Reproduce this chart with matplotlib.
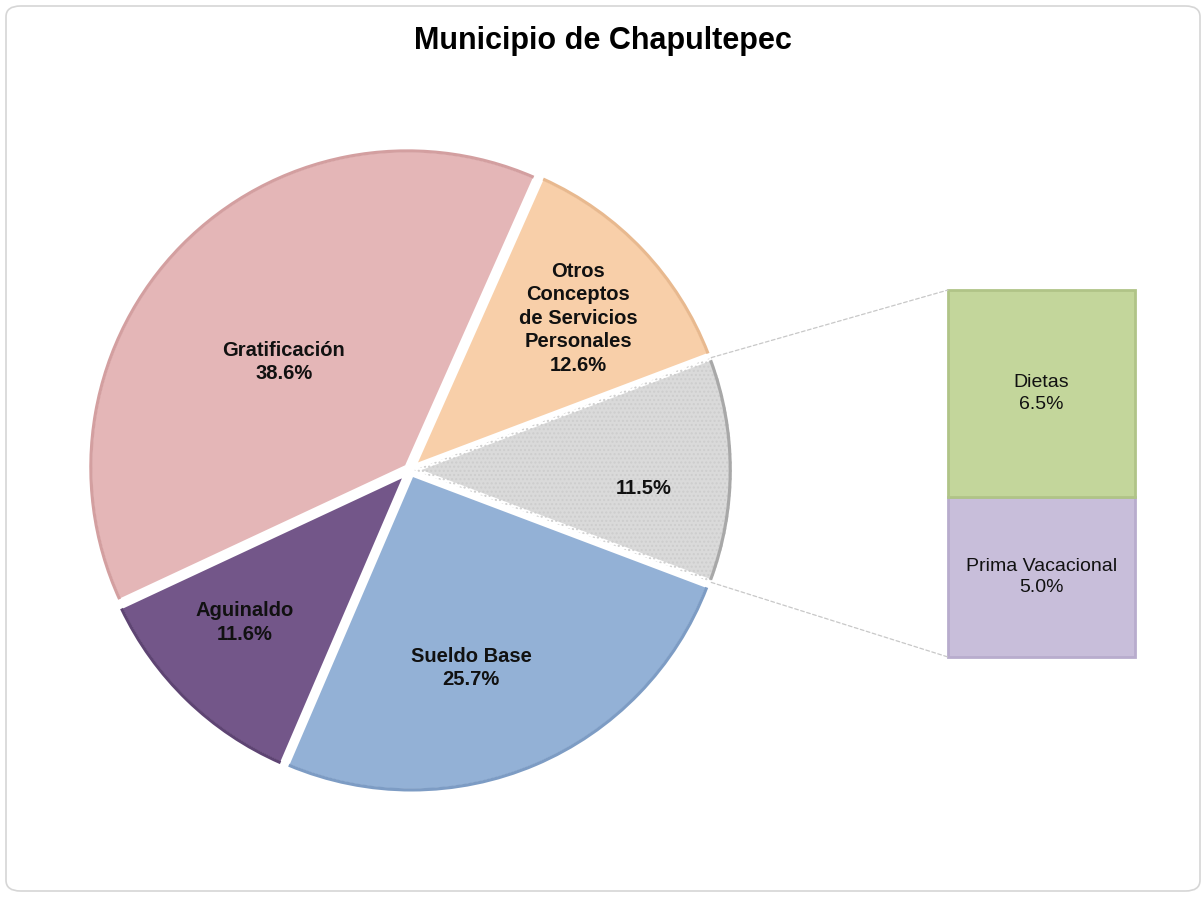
import numpy as np
import matplotlib
matplotlib.use("Agg")
import matplotlib.pyplot as plt
from matplotlib.patches import FancyBboxPatch, ConnectionPatch, Wedge

# ---- data ----
title = "Municipio de Chapultepec"
pie_labels = ["", "Otros\nConceptos\nde Servicios\nPersonales", "Gratificación", "Aguinaldo", "Sueldo Base"]
pie_values = [11.5, 12.6, 38.6, 11.6, 25.7]
pie_colors = ["#DADADA", "#F8CFA9", "#E4B6B7", "#735689", "#93B1D6"]
bar_labels = ["Prima Vacacional", "Dietas"]
bar_values = [5.0, 6.5]
bar_colors = ["#C8BEDA", "#C3D69B"]
bar_edges = ["#B8ACCD", "#B0C487"]

W, H = 1203, 897
fig = plt.figure(figsize=(W / 100, H / 100), dpi=100)
fig.patch.set_facecolor("white")

# rounded border
border = FancyBboxPatch((6 / W, 6 / H), (W - 9) / W, (H - 12) / H,
                        boxstyle="round,pad=0,rounding_size=0.012",
                        transform=fig.transFigure, facecolor="none",
                        edgecolor="#D6D6D6", linewidth=1.2)
fig.patches.append(border)

fig.text(603 / W, 1 - 41 / H, title, ha="center", va="center",
         fontsize=22, fontweight="bold",
         family=["Liberation Sans Narrow", "Liberation Sans", "DejaVu Sans"])

# ---- pie ----
cx, cy, R = 410, 470, 318
axp = fig.add_axes([(cx - R) / W, (H - cy - R) / H, 2 * R / W, 2 * R / H])

start = -pie_values[0] / 100 * 360 / 2
wedges, _ = axp.pie(pie_values, colors=pie_colors, startangle=start,
                    counterclock=True, radius=1.0,
                    explode=[0.012] * len(pie_values),
                    wedgeprops=dict(edgecolor="white", linewidth=4))
axp.set_xlim(-1, 1)
axp.set_ylim(-1, 1)
axp.set_aspect("equal")
axp.axis("off")
for w in wedges:
    w.set_clip_on(False)

# dotted texture on the grey slice
w0 = wedges[0]
hatch = Wedge(w0.center, w0.r, w0.theta1, w0.theta2, facecolor="none",
              edgecolor="#CDCDCD", hatch="....", linewidth=0, clip_on=False)
axp.add_patch(hatch)
# subtle darker rim
for w, c in zip(wedges, ["#A8A8A8", "#E8B98F", "#D39FA0", "#5E4473", "#7D9CC4"]):
    rim = Wedge(w.center, w.r, w.theta1 + 0.4, w.theta2 - 0.4, width=0.01,
                facecolor=c, edgecolor="none", clip_on=False)
    axp.add_patch(rim)

# label placement (radius, angle offset from slice middle)
label_r = [0.725, 0.70, 0.51, 0.695, 0.64]
label_dang = [-4.5, -1.4, 4.0, -3.2, -6.0]
total = sum(pie_values)
for w, lab, v, r, da in zip(wedges, pie_labels, pie_values, label_r, label_dang):
    ang = np.deg2rad((w.theta1 + w.theta2) / 2 + da)
    x = w.center[0] + r * np.cos(ang)
    y = w.center[1] + r * np.sin(ang)
    txt = f"{v / total * 100:.1f}%" if lab == "" else f"{lab}\n{v / total * 100:.1f}%"
    axp.text(x, y, txt, ha="center", va="center", fontsize=14.5,
             fontweight="bold", family="Liberation Sans", color="#111111",
             linespacing=1.3)

# ---- bar of pie ----
bx0, bx1, by0, by1 = 948, 1135, 290, 657
axb = fig.add_axes([bx0 / W, (H - by1) / H, (bx1 - bx0) / W, (by1 - by0) / H])
axb.set_xlim(-0.5, 0.5)
axb.set_ylim(0, sum(bar_values))
axb.axis("off")
bottom = 0
for lab, v, c, ec in zip(bar_labels, bar_values, bar_colors, bar_edges):
    axb.bar(0, v, width=1.0, bottom=bottom, color=c, edgecolor=ec,
            linewidth=2, clip_on=False)
    axb.text(0, bottom + v / 2, f"{lab}\n{v:.1f}%", ha="center", va="center",
             fontsize=14, family="Liberation Sans", color="#111111",
             linespacing=1.35)
    bottom += v

# connector lines
for ang_deg, ytop in [(w0.theta2, sum(bar_values)), (w0.theta1, 0)]:
    a = np.deg2rad(ang_deg)
    p = (w0.center[0] + np.cos(a), w0.center[1] + np.sin(a))
    con = ConnectionPatch(xyA=p, coordsA=axp.transData, xyB=(-0.5, ytop),
                          coordsB=axb.transData, color="#C8C8C8",
                          linestyle=(0, (3, 2)), linewidth=0.9)
    fig.add_artist(con)

fig.savefig("out.png", dpi=100, facecolor="white")
